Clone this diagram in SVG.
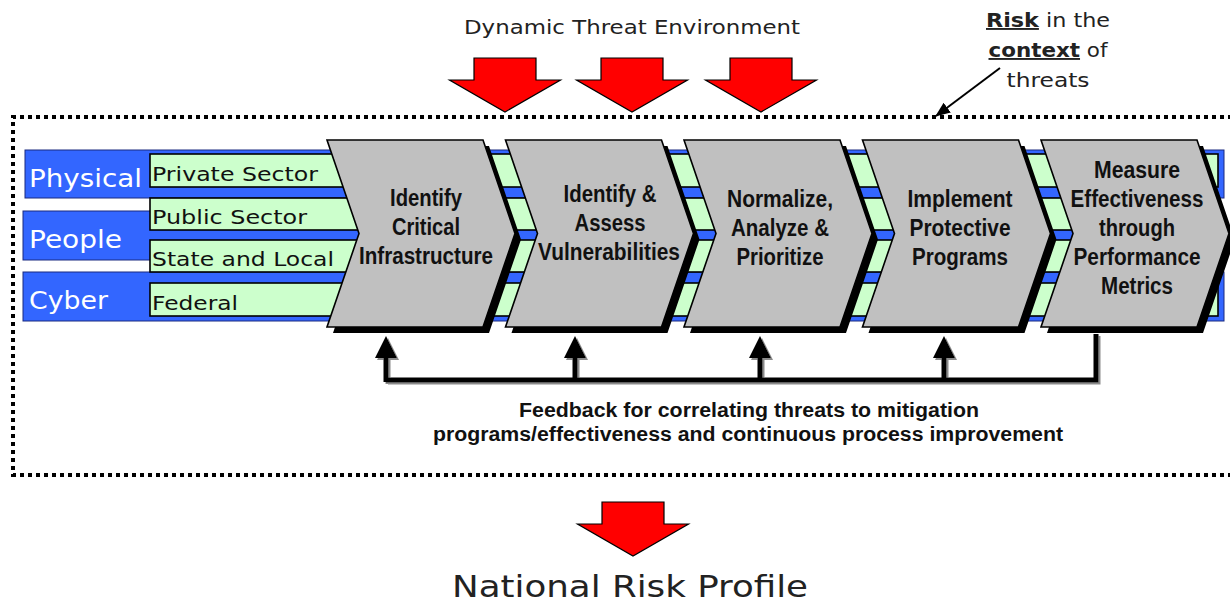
<svg xmlns="http://www.w3.org/2000/svg" width="1230" height="605" viewBox="0 0 1230 605">
  <defs>
    <style>
      .verd { font-family: "DejaVu Sans", Verdana, sans-serif; }
      .band { fill: #3366FF; stroke: #1a2a80; stroke-width: 1; }
      .sector { fill: #CCFFCC; stroke: #000; stroke-width: 1.6; }
      .band-label { font-family: "DejaVu Sans", Verdana, sans-serif; font-size: 24px; fill: #ffffff; }
      .sector-label { font-family: "DejaVu Sans", Verdana, sans-serif; font-size: 20px; fill: #111; }
      .chev { fill: #C0C0C0; stroke: #000; stroke-width: 1.6; stroke-linejoin: miter; }
      .chev-shadow { fill: #000; }
      .step { font-family: "Liberation Sans", Arial, sans-serif; font-weight: bold; font-size: 23px; fill: #111; text-anchor: middle; }
      .red { fill: #FF0000; stroke: #000; stroke-width: 1.2; }
      .fb { fill: none; stroke: #000; stroke-width: 5; stroke-linejoin: miter; }
      .fb-text { font-family: "Liberation Sans", Arial, sans-serif; font-weight: bold; font-size: 20px; fill: #111; text-anchor: middle; }
      .note { font-family: "DejaVu Sans", Verdana, sans-serif; font-size: 19px; fill: #222; text-anchor: middle; }
    </style>
    <path id="redArrow" d="M-31,0 H31 V22 H55.5 L0,54 L-55.5,22 H-31 Z"/>
    <marker id="fbHead" markerUnits="userSpaceOnUse" markerWidth="24" markerHeight="24" refX="0" refY="11" orient="auto" viewBox="0 0 24 22">
      <path d="M0,0 L22,11 L0,22 Z" fill="#000"/>
    </marker>
    <marker id="riskHead" markerUnits="userSpaceOnUse" markerWidth="16" markerHeight="14" refX="14" refY="6" orient="auto" viewBox="0 0 16 12">
      <path d="M0,0 L15,6 L0,12 Z" fill="#000"/>
    </marker>
    <filter id="fbShadow" x="-10%" y="-10%" width="130%" height="130%">
      <feDropShadow dx="2" dy="2" stdDeviation="0.3" flood-color="#8a8a8a" flood-opacity="1"/>
    </filter>
  </defs>

  <rect x="0" y="0" width="1230" height="605" fill="#ffffff"/>

  <!-- title above the threat arrows -->
  <g id="threat-title">
    <text class="verd" x="464" y="34" font-size="19" fill="#222" textLength="336" lengthAdjust="spacingAndGlyphs">Dynamic Threat Environment</text>
  </g>

  <!-- incoming threat arrows -->
  <g id="threat-arrows">
    <use href="#redArrow" class="red" transform="translate(505,58)"/>
    <use href="#redArrow" class="red" transform="translate(632,58)"/>
    <use href="#redArrow" class="red" transform="translate(761,58)"/>
  </g>

  <!-- risk callout -->
  <g id="risk-note">
    <text class="note" x="1048" y="27" textLength="124" lengthAdjust="spacingAndGlyphs"><tspan font-weight="bold" text-decoration="underline">Risk</tspan> in the</text>
    <text class="note" x="1048" y="57" textLength="119" lengthAdjust="spacingAndGlyphs"><tspan font-weight="bold" text-decoration="underline">context</tspan> of</text>
    <text class="note" x="1048" y="87" textLength="83" lengthAdjust="spacingAndGlyphs">threats</text>
  </g>

  <!-- dotted boundary of the risk context -->
  <g id="context-frame">
    <path d="M1240,117 H13 V475 H1240" fill="none" stroke="#000" stroke-width="4" stroke-dasharray="4 4"/>
  </g>

  <!-- sector bands -->
  <g id="band-physical">
    <rect class="band" x="25" y="150" width="1199" height="48"/>
    <text class="band-label" x="29" y="187" textLength="113" lengthAdjust="spacingAndGlyphs">Physical</text>
  </g>
  <g id="band-people">
    <rect class="band" x="23" y="211" width="1201" height="49"/>
    <text class="band-label" x="29" y="248" textLength="93" lengthAdjust="spacingAndGlyphs">People</text>
  </g>
  <g id="band-cyber">
    <rect class="band" x="23" y="272" width="1201" height="49"/>
    <text class="band-label" x="29" y="309" textLength="79" lengthAdjust="spacingAndGlyphs">Cyber</text>
  </g>
  <g id="sector-private">
    <rect class="sector" x="150" y="154" width="1068" height="33"/>
    <text class="sector-label" x="152" y="181" textLength="166" lengthAdjust="spacingAndGlyphs">Private Sector</text>
  </g>
  <g id="sector-public">
    <rect class="sector" x="150" y="198" width="1068" height="32"/>
    <text class="sector-label" x="152" y="224" textLength="155" lengthAdjust="spacingAndGlyphs">Public Sector</text>
  </g>
  <g id="sector-state">
    <rect class="sector" x="150" y="240" width="1068" height="32"/>
    <text class="sector-label" x="152" y="266" textLength="182" lengthAdjust="spacingAndGlyphs">State and Local</text>
  </g>
  <g id="sector-federal">
    <rect class="sector" x="150" y="283" width="1068" height="33"/>
    <text class="sector-label" x="152" y="310" textLength="86" lengthAdjust="spacingAndGlyphs">Federal</text>
  </g>

  <!-- process steps -->
  <g id="step-identify-ci">
    <path class="chev-shadow" d="M333,146 H489 L521,239.5 L489,333 H333 L365,239.5 Z"/>
    <path class="chev" d="M327,140 H483 L515,233.5 L483,327 H327 L359,233.5 Z"/>
    <text class="step" x="426" y="206" textLength="72" lengthAdjust="spacingAndGlyphs">Identify</text>
    <text class="step" x="426" y="235" textLength="68" lengthAdjust="spacingAndGlyphs">Critical</text>
    <text class="step" x="426" y="264" textLength="134" lengthAdjust="spacingAndGlyphs">Infrastructure</text>
  </g>
  <g id="step-assess">
    <path class="chev-shadow" d="M511.5,146 H667.5 L699.5,239.5 L667.5,333 H511.5 L543.5,239.5 Z"/>
    <path class="chev" d="M505.5,140 H661.5 L693.5,233.5 L661.5,327 H505.5 L537.5,233.5 Z"/>
    <text class="step" x="610" y="202" textLength="93" lengthAdjust="spacingAndGlyphs">Identify &amp;</text>
    <text class="step" x="610" y="231" textLength="71" lengthAdjust="spacingAndGlyphs">Assess</text>
    <text class="step" x="609" y="260" textLength="142" lengthAdjust="spacingAndGlyphs">Vulnerabilities</text>
  </g>
  <g id="step-normalize">
    <path class="chev-shadow" d="M690,146 H846 L878,239.5 L846,333 H690 L722,239.5 Z"/>
    <path class="chev" d="M684,140 H840 L872,233.5 L840,327 H684 L716,233.5 Z"/>
    <text class="step" x="780" y="207" textLength="106" lengthAdjust="spacingAndGlyphs">Normalize,</text>
    <text class="step" x="780" y="236" textLength="98" lengthAdjust="spacingAndGlyphs">Analyze &amp;</text>
    <text class="step" x="780" y="265" textLength="87" lengthAdjust="spacingAndGlyphs">Prioritize</text>
  </g>
  <g id="step-implement">
    <path class="chev-shadow" d="M868.5,146 H1024.5 L1056.5,239.5 L1024.5,333 H868.5 L900.5,239.5 Z"/>
    <path class="chev" d="M862.5,140 H1018.5 L1050.5,233.5 L1018.5,327 H862.5 L894.5,233.5 Z"/>
    <text class="step" x="960" y="207" textLength="105" lengthAdjust="spacingAndGlyphs">Implement</text>
    <text class="step" x="960" y="236" textLength="101" lengthAdjust="spacingAndGlyphs">Protective</text>
    <text class="step" x="960" y="265" textLength="96" lengthAdjust="spacingAndGlyphs">Programs</text>
  </g>
  <g id="step-measure">
    <path class="chev-shadow" d="M1047,146 H1203 L1235,239.5 L1203,333 H1047 L1079,239.5 Z"/>
    <path class="chev" d="M1041,140 H1197 L1229,233.5 L1197,327 H1041 L1073,233.5 Z"/>
    <text class="step" x="1137" y="178" textLength="86" lengthAdjust="spacingAndGlyphs">Measure</text>
    <text class="step" x="1137" y="207" textLength="133" lengthAdjust="spacingAndGlyphs">Effectiveness</text>
    <text class="step" x="1137" y="236" textLength="76" lengthAdjust="spacingAndGlyphs">through</text>
    <text class="step" x="1137" y="265" textLength="127" lengthAdjust="spacingAndGlyphs">Performance</text>
    <text class="step" x="1137" y="294" textLength="72" lengthAdjust="spacingAndGlyphs">Metrics</text>
  </g>

  <!-- connectors: feedback loop and risk pointer -->
  <g id="connectors">
    <g filter="url(#fbShadow)">
      <path class="fb" d="M1096,334 V380 H386"/>
      <path class="fb" d="M386,382 V358" marker-end="url(#fbHead)"/>
      <path class="fb" d="M575,380 V358" marker-end="url(#fbHead)"/>
      <path class="fb" d="M760,380 V358" marker-end="url(#fbHead)"/>
      <path class="fb" d="M944,380 V358" marker-end="url(#fbHead)"/>
    </g>
    <path d="M1000,68 L936,116" fill="none" stroke="#000" stroke-width="2" marker-end="url(#riskHead)"/>
  </g>

  <!-- feedback caption -->
  <g id="feedback-caption">
    <text class="fb-text" x="749" y="417" textLength="460" lengthAdjust="spacingAndGlyphs">Feedback for correlating threats to mitigation</text>
    <text class="fb-text" x="748" y="441" textLength="630" lengthAdjust="spacingAndGlyphs">programs/effectiveness and continuous process improvement</text>
  </g>

  <!-- outcome -->
  <g id="outcome-arrow">
    <use href="#redArrow" class="red" transform="translate(633,502)"/>
  </g>
  <g id="outcome-label">
    <text class="verd" x="452" y="597" font-size="31" fill="#222" textLength="356" lengthAdjust="spacingAndGlyphs">National Risk Profile</text>
  </g>
</svg>
